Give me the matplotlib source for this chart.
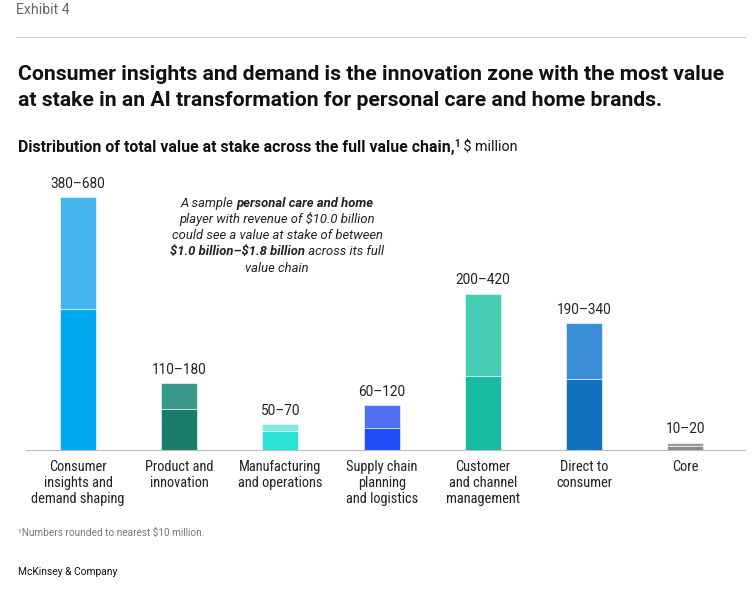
import matplotlib
matplotlib.use("Agg")
import matplotlib.pyplot as plt
from matplotlib import font_manager

# value ranges, $ million
categories = ["Consumer\ninsights and\ndemand shaping", "Product and\ninnovation",
              "Manufacturing\nand operations", "Supply chain\nplanning\nand logistics",
              "Customer\nand channel\nmanagement", "Direct to\nconsumer", "Core"]
low_values = [380, 110, 50, 60, 200, 190, 10]
high_values = [680, 180, 70, 120, 420, 340, 20]
range_labels = ["380\u2013680", "110\u2013180", "50\u201370", "60\u2013120",
                "200\u2013420", "190\u2013340", "10\u201320"]
low_colors = ["#00A8F0", "#1B7C6C", "#2DE3D6", "#1F4DF7", "#17B9A0", "#0E72BE", "#8A8A8A"]
high_colors = ["#45B5EE", "#3C9A8C", "#7AEAE3", "#4F6EF2", "#45CDB3", "#3A8FD6", "#9A9A9A"]

names = {f.name for f in font_manager.fontManager.ttflist}
narrow = "Roboto Condensed" if "Roboto Condensed" in names else "Roboto"
plt.rcParams["font.family"] = ["Roboto", "DejaVu Sans"]
NARROW = [narrow, "DejaVu Sans"]

W, H = 752, 605
fig = plt.figure(figsize=(W / 100, H / 100), dpi=100)

def fx(px):
    return px / W

def fy(py):
    return 1 - py / H

# axes placed in pixel terms: baseline at y=450, 680 -> 253 px
ax = fig.add_axes([fx(26), fy(450), fx(745) - fx(26), (450 - 190) / H])
x = list(range(len(categories)))
ax.bar(x, low_values, width=0.356, color=low_colors, edgecolor="white", linewidth=0.4)
ax.bar(x, [h - l for h, l in zip(high_values, low_values)], bottom=low_values,
       width=0.356, color=high_colors, edgecolor="white", linewidth=0.4)
ax.set_ylim(0, 680 * 260 / 253)
ax.set_xlim(-0.514, 6.59)
for s in ["top", "right", "left"]:
    ax.spines[s].set_visible(False)
ax.spines["bottom"].set_color("#bbbbbb")
ax.spines["bottom"].set_linewidth(0.8)
ax.set_yticks([])
ax.set_xticks(x)
ax.set_xticklabels(categories, fontsize=10.4, linespacing=1.15, va="top", color="#222222",
                   family=NARROW)
ax.tick_params(axis="x", length=0, pad=7.5)

for i, lab in enumerate(range_labels):
    ax.annotate(lab, (i, high_values[i]), xytext=(0, 4.5), textcoords="offset points",
                ha="center", va="bottom", fontsize=9.8, color="#222222")

# header
fig.text(fx(16), fy(10), "Exhibit 4", fontsize=10.2, color="#666666", va="center")
fig.add_artist(plt.Line2D([fx(16), fx(745)], [fy(37), fy(37)], color="#cccccc", lw=0.8))
fig.text(fx(18), fy(75), "Consumer insights and demand is the innovation zone with the most value",
         fontsize=15.2, fontweight="bold", va="center", color="#111111")
fig.text(fx(18), fy(100), "at stake in an AI transformation for personal care and home brands.",
         fontsize=15.2, fontweight="bold", va="center", color="#111111")

renderer = fig.canvas.get_renderer()

def run(pieces, x0, y0, ha="left", style="normal", color="#111111"):
    # draws a line of mixed text pieces (text, weight, size, raise) from / around pixel x0
    widths = []
    arts = []
    for txt, wt, size, dy in pieces:
        t = fig.text(0, fy(y0 - dy), txt, fontsize=size, fontweight=wt, fontstyle=style,
                     va="center", color=color)
        widths.append(t.get_window_extent(renderer).width)
        arts.append(t)
    total = sum(widths)
    start = x0 - total / 2 if ha == "center" else x0
    for t, w in zip(arts, widths):
        t.set_x(fx(start))
        start += w

run([("Distribution of total value at stake across the full value chain,", "bold", 11.4, 0),
     ("1", "bold", 7, 4), (" \\$ million", "normal", 10.3, 0)], 18, 148)

note = [
    [("A sample ", "normal", 9.4, 0), ("personal care and home", "bold", 9.4, 0)],
    [("player with revenue of \\$10.0 billion", "normal", 9.4, 0)],
    [("could see a value at stake of between", "normal", 9.4, 0)],
    [("\\$1.0 billion\u2013\\$1.8 billion", "bold", 9.4, 0), (" across its full", "normal", 9.4, 0)],
    [("value chain", "normal", 9.4, 0)],
]
for k, line in enumerate(note):
    run(line, 277, 203 + 16.3 * k, ha="center", style="italic", color="#222222")

fig.text(fx(18), fy(533), "\u00b9Numbers rounded to nearest \\$10 million.", fontsize=7.2,
         color="#777777", va="center")
fig.text(fx(18), fy(572), "McKinsey & Company", fontsize=7.4, color="#111111", va="center")

fig.savefig("out.png", dpi=100)
